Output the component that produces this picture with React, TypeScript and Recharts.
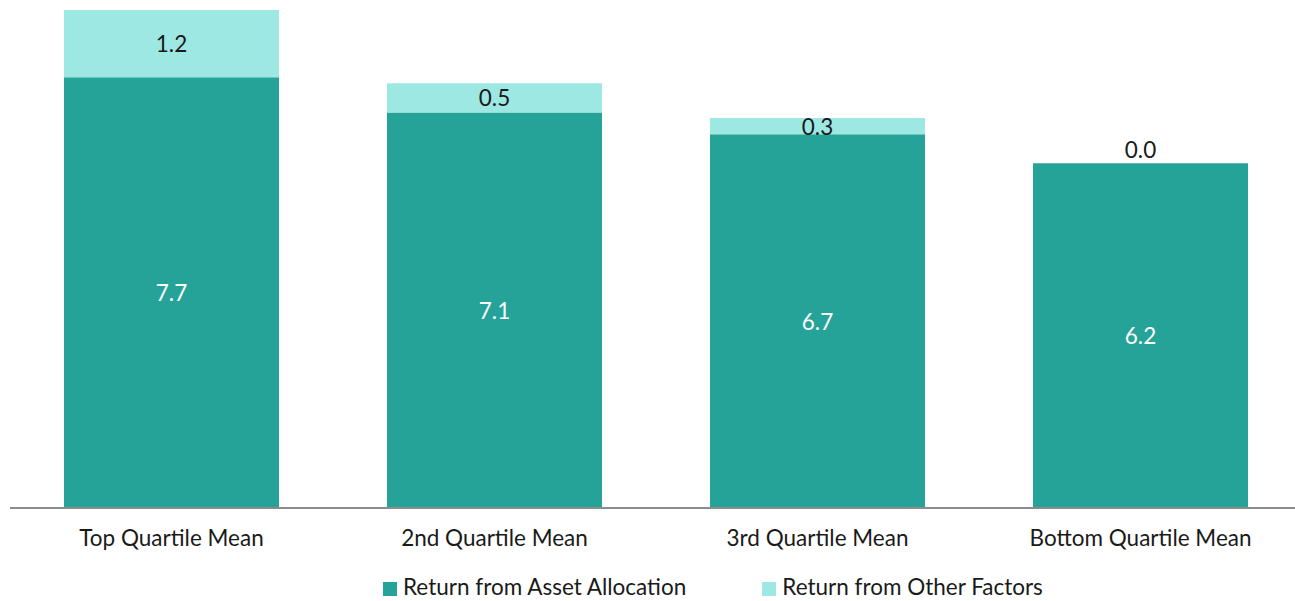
import { BarChart, Bar, XAxis, YAxis, Legend, LabelList } from "recharts";

const categories = ["Top Quartile Mean", "2nd Quartile Mean", "3rd Quartile Mean", "Bottom Quartile Mean"];
const assetAllocation = [7.7, 7.07, 6.68, 6.16];
const otherFactors = [1.2, 0.52, 0.29, 0.0];

const DARK = "#26a399";
const LIGHT = "#9de8e2";
const FONT = "'Source Sans Pro', Lato, 'Noto Sans', sans-serif";
const FS = 22.5;

const data = categories.map((name, i) => ({
  name,
  asset: assetAllocation[i],
  other: otherFactors[i],
}));

const renderLabel = (fill: string) => (props: any) => {
  const { x, y, width, height, value } = props;
  if (value === 0) return null;
  return (
    <text
      x={x + width / 2}
      y={y + height / 2}
      fill={fill}
      textAnchor="middle"
      dominantBaseline="central"
      fontSize={FS}
      fontFamily={FONT}
    >
      {Number(value).toFixed(1)}
    </text>
  );
};

// zero-height "other" segments are not drawn, so their label sits above the asset bar
const zeroLabel = (props: any) => {
  const { x, y, width, value } = props;
  if (value !== 0) return null;
  return (
    <text
      x={x + width / 2}
      y={y - 14}
      fill="#1a1a1a"
      textAnchor="middle"
      dominantBaseline="central"
      fontSize={FS}
      fontFamily={FONT}
    >
      {Number(value).toFixed(1)}
    </text>
  );
};

export default function App() {
  return (
    <div style={{ position: "absolute", left: 0, top: 0, width: 1295, height: 601, overflow: "hidden", background: "#fff" }}>
      <BarChart
        width={1302}
        height={601}
        data={data}
        margin={{ top: 10, right: 0, left: 10, bottom: 0 }}
        barSize={215}
      >
        <XAxis
          dataKey="name"
          tickLine={false}
          axisLine={{ stroke: "#8c8c8c", strokeWidth: 2 }}
          tick={{ fontSize: FS, fill: "#1a1a1a", fontFamily: FONT, dy: 14 }}
          height={65}
          interval={0}
        />
        <YAxis hide domain={[0, 8.9]} />
        <Legend
          verticalAlign="bottom"
          align="left"
          iconType="square"
          iconSize={14}
          wrapperStyle={{ fontSize: FS, fontFamily: FONT, left: 383, width: 750, bottom: 0, lineHeight: "28px", textAlign: "left" }}
          formatter={(v: string, _e: any, i: number) => (
            <span style={{ color: "#1a1a1a", paddingLeft: 2, marginRight: i === 0 ? 66 : 0 }}>{v}</span>
          )}
        />
        <Bar dataKey="asset" name="Return from Asset Allocation" stackId="a" fill={DARK} isAnimationActive={false}>
          <LabelList dataKey="asset" content={renderLabel("#ffffff")} />
          <LabelList dataKey="other" content={zeroLabel} />
        </Bar>
        <Bar dataKey="other" name="Return from Other Factors" stackId="a" fill={LIGHT} isAnimationActive={false}>
          <LabelList dataKey="other" content={renderLabel("#1a1a1a")} />
        </Bar>
      </BarChart>
    </div>
  );
}
